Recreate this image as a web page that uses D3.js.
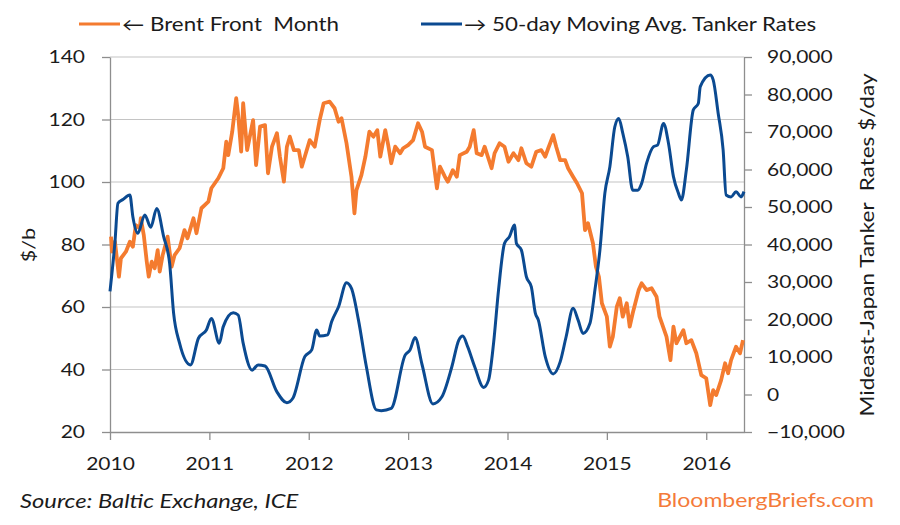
<!DOCTYPE html>
<html>
<head>
<meta charset="utf-8">
<script src="https://cdn.jsdelivr.net/npm/d3@7"></script>
<style>
  body { margin: 0; background: #fff; }
  text { font-family: Lato, "Open Sans", sans-serif; }
</style>
</head>
<body>
<svg id="chart" width="900" height="525"></svg>
<script>
// values, [decimal year, value]
var brent = [
  [2010.01,82.5],[2010.02,77.7],[2010.05,80.9],[2010.09,69.7],[2010.11,75.6],[2010.16,77.7],[2010.20,80.9],
  [2010.23,79.3],[2010.26,86.2],[2010.30,85.2],[2010.31,88.4],[2010.34,83],[2010.37,74.5],[2010.39,69.7],
  [2010.42,74.5],[2010.45,72.4],[2010.48,78.2],[2010.50,71.3],[2010.53,76.6],[2010.58,82.5],[2010.62,72.9],
  [2010.65,76.6],[2010.70,78.8],[2010.75,84.6],[2010.78,82],[2010.84,88.4],[2010.87,83.6],[2010.92,91.6],
  [2010.99,93.7],[2011.02,98],[2011.09,101.2],[2011.14,104.4],[2011.17,112.9],[2011.19,108.6],[2011.23,116.1],
  [2011.27,126.8],[2011.29,121.4],[2011.32,109.7],[2011.34,125.2],[2011.38,110.2],[2011.44,119.8],[2011.47,105.4],
  [2011.51,117.7],[2011.56,118.2],[2011.59,102.8],[2011.63,111.3],[2011.68,115.6],[2011.71,108.1],[2011.75,100.1],
  [2011.78,111.3],[2011.81,114.5],[2011.85,110.2],[2011.90,110.2],[2011.93,104.9],[2011.96,108.1],[2012.01,113.4],
  [2012.06,111.3],[2012.11,119.8],[2012.15,125.2],[2012.21,125.7],[2012.26,123.6],[2012.30,119.3],[2012.33,120.4],
  [2012.38,112.4],[2012.43,101.7],[2012.46,90],[2012.48,97.4],[2012.53,102.2],[2012.57,108.1],[2012.61,116.1],
  [2012.65,114.5],[2012.69,116.6],[2012.72,108.1],[2012.77,116.6],[2012.80,111.8],[2012.83,106],[2012.87,111.3],
  [2012.92,109.2],[2012.95,110.8],[2013.00,111.8],[2013.05,113.4],[2013.10,118.8],[2013.14,116.1],[2013.17,111.3],
  [2013.24,110.2],[2013.29,98],[2013.32,104.9],[2013.37,101.7],[2013.40,100.1],[2013.45,103.8],[2013.49,101.7],
  [2013.52,108.6],[2013.59,109.7],[2013.62,111.3],[2013.66,116.6],[2013.69,109.2],[2013.74,108.6],[2013.77,111.3],
  [2013.84,104.4],[2013.87,109.2],[2013.92,112.4],[2013.97,111.3],[2014.01,106.5],[2014.06,109.2],[2014.11,107],
  [2014.14,110.8],[2014.19,106],[2014.24,104.9],[2014.29,109.7],[2014.34,110.2],[2014.38,108.1],[2014.41,110.8],
  [2014.46,115],[2014.49,111.3],[2014.53,107],[2014.58,107],[2014.61,104.4],[2014.66,101.7],[2014.70,99.6],
  [2014.75,96.4],[2014.78,84.6],[2014.81,86.8],[2014.86,80.4],[2014.89,72.9],[2014.92,69.7],[2014.95,61.2],
  [2015.00,56.9],[2015.03,47.3],[2015.06,50.5],[2015.10,60.1],[2015.13,62.8],[2015.16,56.9],[2015.20,61.2],
  [2015.23,53.7],[2015.26,58],[2015.32,65.4],[2015.35,67.6],[2015.40,65.4],[2015.45,66],[2015.50,63.3],
  [2015.53,56.9],[2015.60,50.5],[2015.64,43],[2015.67,53.7],[2015.70,48.4],[2015.77,52.6],[2015.80,48.4],
  [2015.85,49.4],[2015.90,45.2],[2015.95,38.2],[2016.00,37.2],[2016.04,28.6],[2016.07,33.4],[2016.10,31.8],
  [2016.15,36.6],[2016.19,42],[2016.22,38.8],[2016.25,43],[2016.30,47.3],[2016.34,45.2],[2016.37,49.4]
];

var tanker = [
  [2010.00,27500],[2010.05,40700],[2010.08,51000],[2010.13,52000],[2010.20,53200],[2010.23,47400],[2010.28,43000],
  [2010.35,47900],[2010.41,44600],[2010.47,49600],[2010.54,42100],[2010.60,35000],[2010.64,21700],[2010.70,13700],
  [2010.81,7900],[2010.89,15000],[2010.97,17200],[2011.02,20300],[2011.10,13700],[2011.14,18100],[2011.24,21800],
  [2011.29,21200],[2011.34,13700],[2011.43,6500],[2011.49,7900],[2011.56,7600],[2011.68,700],[2011.78,-2200],
  [2011.84,-1000],[2011.96,10100],[2012.03,11900],[2012.08,17200],[2012.11,15600],[2012.19,15900],[2012.23,19400],
  [2012.30,23400],[2012.38,29800],[2012.43,28300],[2012.50,19900],[2012.58,7400],[2012.68,-4100],[2012.73,-4300],
  [2012.83,-3700],[2012.97,10500],[2013.02,11900],[2013.07,15200],[2013.14,8000],[2013.25,-2500],[2013.34,-600],
  [2013.44,7400],[2013.51,14500],[2013.55,15600],[2013.60,12700],[2013.67,7400],[2013.76,1900],[2013.81,3900],
  [2013.86,13700],[2013.91,27900],[2013.97,40300],[2014.02,42100],[2014.07,45200],[2014.09,40300],[2014.14,38500],
  [2014.19,31400],[2014.24,28700],[2014.28,21700],[2014.31,19900],[2014.38,10100],[2014.46,5500],[2014.53,8700],
  [2014.59,15400],[2014.66,23000],[2014.71,19900],[2014.76,16300],[2014.83,19000],[2014.88,27900],[2014.93,38500],
  [2014.98,53700],[2015.03,60700],[2015.08,71400],[2015.12,73600],[2015.16,69700],[2015.21,63400],[2015.26,54500],
  [2015.31,54500],[2015.35,56300],[2015.40,61700],[2015.47,66100],[2015.51,66500],[2015.57,72300],[2015.62,67000],
  [2015.67,58100],[2015.72,53700],[2015.75,51900],[2015.80,59900],[2015.87,75900],[2015.92,77600],[2015.94,82100],
  [2016.04,85200],[2016.07,83900],[2016.12,75000],[2016.17,65200],[2016.20,53200],[2016.25,52700],[2016.30,54100],
  [2016.35,52700],[2016.38,54100]
];

var yearTicks = [2010, 2011, 2012, 2013, 2014, 2015, 2016];
var leftTicks = [20, 40, 60, 80, 100, 120, 140];
var rightTicks = [-10000, 0, 10000, 20000, 30000, 40000, 50000, 60000, 70000, 80000, 90000];

var orange = "#f47b2f", blue = "#0b4a91", axisGrey = "#8e8e8e", gridGrey = "#c4c4c4", ink = "#1b1b1b";
var sx = 1.2; // reference type is wide, stretch glyphs a little

var svg = d3.select("#chart");
var plotLeft = 110, plotRight = 744, plotTop = 57, plotBottom = 432;

var x = d3.scaleLinear().domain([2010, 2016.38]).range([plotLeft, plotRight]);
var yL = d3.scaleLinear().domain([20, 140]).range([plotBottom, plotTop]);
var yR = d3.scaleLinear().domain([-10000, 90000]).range([plotBottom, plotTop]);

// gridlines
svg.append("g").selectAll("line")
   .data(leftTicks.slice(1))
   .join("line")
   .attr("x1", plotLeft).attr("x2", plotRight)
   .attr("y1", function(d) { return yL(d); })
   .attr("y2", function(d) { return yL(d); })
   .attr("stroke", gridGrey).attr("stroke-width", 1.2);

function styleAxis(g) {
  g.selectAll("path, line").attr("stroke", axisGrey).attr("stroke-width", 1.3);
  g.selectAll("text")
   .style("font-size", "17.5px")
   .style("fill", ink)
   .attr("transform", "scale(" + sx + ",1)");
}

var axL = svg.append("g").attr("transform", "translate(" + plotLeft + ",0)")
   .call(d3.axisLeft(yL).tickValues(leftTicks).tickSize(8).tickPadding(12.8).tickSizeOuter(0));
styleAxis(axL);

var axR = svg.append("g").attr("transform", "translate(" + plotRight + ",0)")
   .call(d3.axisRight(yR).tickValues(rightTicks).tickSize(8).tickPadding(11.2).tickSizeOuter(0)
         .tickFormat(d3.format(",")));
styleAxis(axR);

var axB = svg.append("g").attr("transform", "translate(0," + plotBottom + ")")
   .call(d3.axisBottom(x).tickValues(yearTicks).tickSize(8).tickPadding(18).tickSizeOuter(0)
         .tickFormat(d3.format("d")));
styleAxis(axB);

// series
var brentLine = d3.line()
   .x(function(d) { return x(d[0]); })
   .y(function(d) { return yL(d[1]); });
var tankerLine = d3.line()
   .x(function(d) { return x(d[0]); })
   .y(function(d) { return yR(d[1]); })
   .curve(d3.curveMonotoneX);

svg.append("path").datum(brent)
   .attr("d", brentLine)
   .attr("fill", "none").attr("stroke", orange)
   .attr("stroke-width", 3.8).attr("stroke-linejoin", "round");

svg.append("path").datum(tanker)
   .attr("d", tankerLine)
   .attr("fill", "none").attr("stroke", blue)
   .attr("stroke-width", 3).attr("stroke-linejoin", "round");

// text helper
function label(str, tx, ty, size, opts) {
  opts = opts || {};
  var t = "translate(" + tx + "," + ty + ")" + (opts.rotate ? " rotate(" + opts.rotate + ")" : "") +
          " scale(" + sx + ",1)";
  return svg.append("text")
     .attr("transform", t)
     .attr("text-anchor", opts.anchor || "start")
     .style("font-size", size + "px")
     .style("font-style", opts.italic ? "italic" : "normal")
     .style("white-space", "pre")
     .style("fill", opts.fill || ink)
     .text(str);
}

// legend
svg.append("line").attr("x1", 79).attr("x2", 120).attr("y1", 24).attr("y2", 24)
   .attr("stroke", orange).attr("stroke-width", 3);
label("\u2190 Brent Front  Month", 122, 31, 18.6);
svg.append("line").attr("x1", 421).attr("x2", 462).attr("y1", 24).attr("y2", 24)
   .attr("stroke", blue).attr("stroke-width", 3);
label("\u2192 50-day Moving Avg. Tanker Rates", 464, 31, 18.6);

// axis titles
label("$/b", 35, 245, 18, { rotate: -90, anchor: "middle" });
label("Mideast-Japan Tanker  Rates $/day", 874, 245, 18.8, { rotate: -90, anchor: "middle" });

// footer
label("Source: Baltic Exchange, ICE", 20, 508, 19.8, { italic: true });
label("BloombergBriefs.com", 874, 507, 19.2, { anchor: "end", fill: "#f47b3a" });
</script>
</body>
</html>
